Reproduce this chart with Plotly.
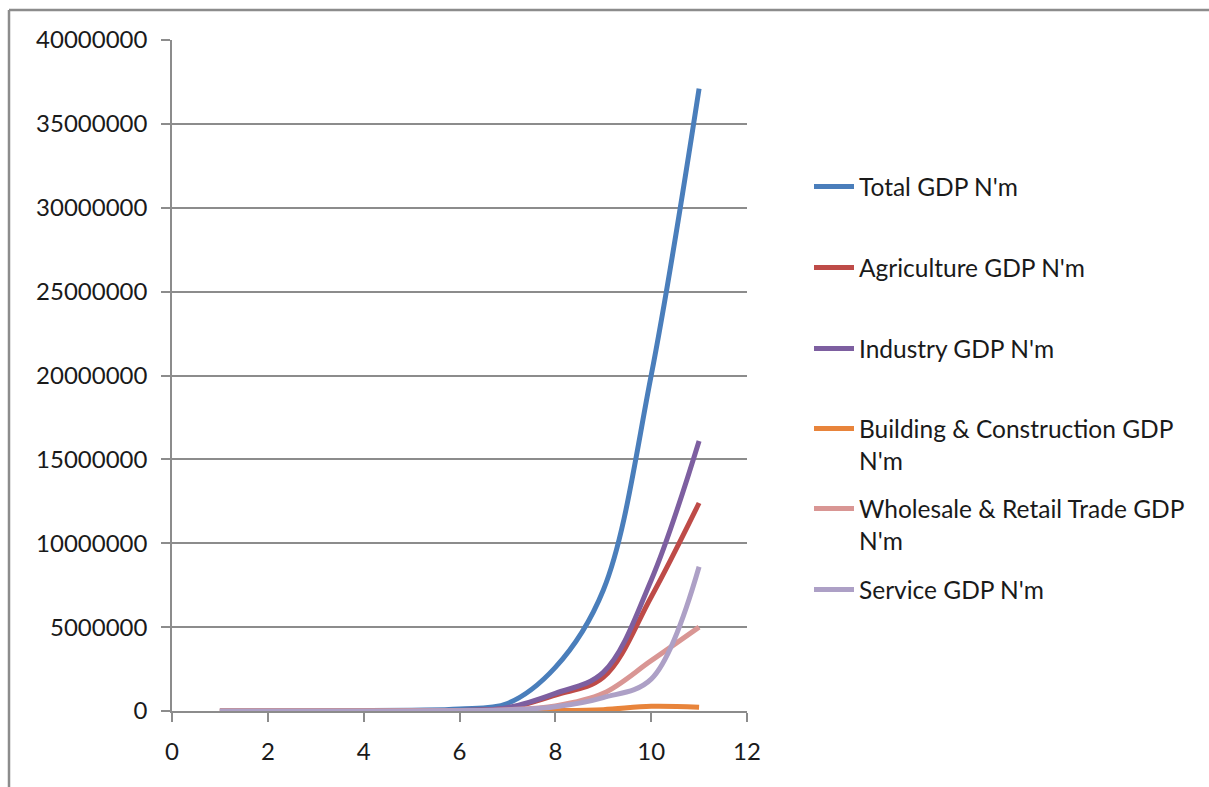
import plotly.graph_objects as go

# Period index (x) and sector GDP, N million
periods = [1, 2, 3, 4, 5, 6, 7, 8, 9, 10, 11]

total_gdp = [2200, 3100, 5300, 21000, 50000, 120000, 450000, 2600000, 7200000, 20000000, 37100000]
agriculture_gdp = [1400, 1700, 2600, 5000, 10000, 30000, 160000, 950000, 2000000, 6800000, 12400000]
industry_gdp = [300, 500, 1000, 6000, 15000, 35000, 200000, 1050000, 2300000, 7800000, 16100000]
building_gdp = [100, 150, 300, 1500, 4000, 6000, 10000, 20000, 80000, 280000, 220000]
trade_gdp = [250, 350, 650, 3000, 8000, 20000, 80000, 300000, 1050000, 3000000, 5000000]
service_gdp = [200, 300, 600, 2500, 6000, 20000, 60000, 250000, 800000, 1900000, 8600000]

series_names = [
    "Total GDP N'm",
    "Agriculture GDP N'm",
    "Industry GDP N'm",
    "Building & Construction GDP<br>N'm",
    "Wholesale & Retail Trade GDP<br>N'm",
    "Service GDP N'm",
]
series_values = [total_gdp, agriculture_gdp, industry_gdp, building_gdp, trade_gdp, service_gdp]
series_colors = ["#4A7EBB", "#BE4B48", "#7D5FA0", "#E8843B", "#D99694", "#ADA0C6"]

FONT = "Lato"
W, H = 1209, 787
L, R, T, B = 172, 462, 40, 76
plot_h = H - T - B
plot_w = W - L - R

# vertical pixel position of each legend row's first text line
legend_rows_px = [185, 266, 347, 427, 507, 588]

fig = go.Figure()
layout_legends = {}
for i, (name, vals, col) in enumerate(zip(series_names, series_values, series_colors)):
    key = "legend" if i == 0 else f"legend{i + 1}"
    fig.add_trace(go.Scatter(
        x=periods, y=vals, name=name, mode="lines",
        line=dict(color=col, width=5, shape="spline", smoothing=1),
        legend=key,
    ))
    y_top = (H - B - (legend_rows_px[i] - 21)) / plot_h
    layout_legends[key] = dict(
        x=(809 - L) / plot_w, xanchor="left",
        y=y_top, yanchor="top",
        font=dict(family=FONT, size=24.5, color="#1a1a1a"),
        bgcolor="rgba(0,0,0,0)", borderwidth=0,
        valign="top", itemwidth=40,
    )

grid_col = "#8C8C8C"
fig.update_layout(
    width=W, height=H,
    margin=dict(l=L, r=R, t=T, b=B),
    paper_bgcolor="white", plot_bgcolor="white",
    showlegend=True,
    **layout_legends,
    xaxis=dict(
        range=[0, 12], dtick=2, tick0=0,
        showgrid=False, zeroline=False,
        showline=True, linecolor=grid_col, linewidth=1.5,
        ticks="outside", ticklen=9, tickcolor=grid_col, tickwidth=1.5,
        tickfont=dict(family=FONT, size=24, color="#1a1a1a"),
        ticklabelstandoff=9,
    ),
    yaxis=dict(
        range=[0, 40000000], dtick=5000000, tick0=0, tickformat="d",
        showgrid=True, gridcolor=grid_col, gridwidth=1.5,
        zeroline=False,
        showline=True, linecolor=grid_col, linewidth=1.5,
        ticks="outside", ticklen=9, tickcolor=grid_col, tickwidth=1.5,
        tickfont=dict(family=FONT, size=24, color="#1a1a1a"),
        ticklabelstandoff=9,
    ),
)

# outer chart frame (left and top edges)
x_left = (9 - L) / plot_w
x_right = (W + 5 - L) / plot_w
y_top = 1 + (T - 10) / plot_h
y_bottom = -(B + 5) / plot_h
frame = dict(color="#8C8C8C", width=2.5)
fig.add_shape(type="line", xref="paper", yref="paper",
              x0=x_left, x1=x_left, y0=y_bottom, y1=y_top, line=frame)
fig.add_shape(type="line", xref="paper", yref="paper",
              x0=x_left, x1=x_right, y0=y_top, y1=y_top, line=frame)

fig.write_html("out.html")
